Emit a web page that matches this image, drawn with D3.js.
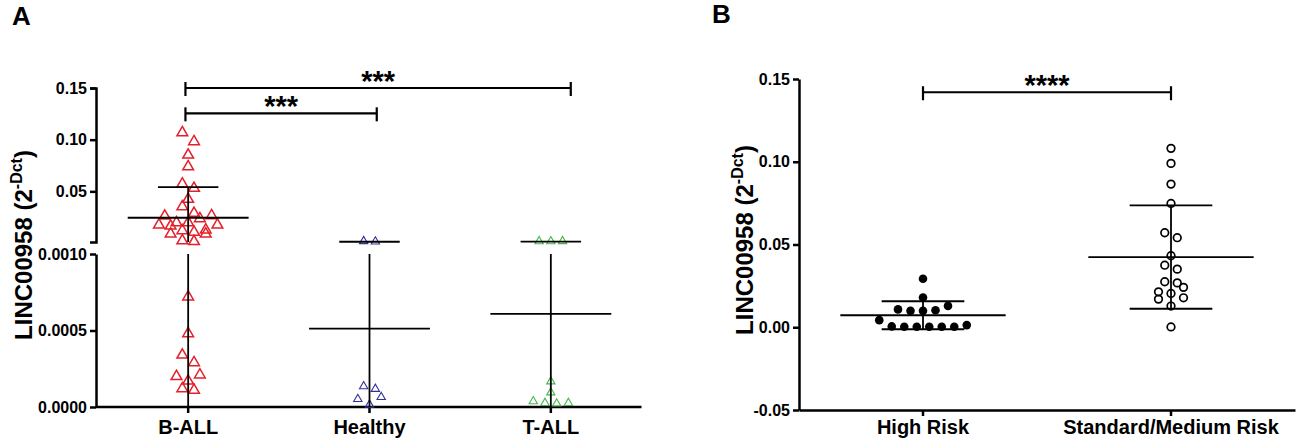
<!DOCTYPE html>
<html>
<head>
<meta charset="utf-8">
<script src="https://cdn.jsdelivr.net/npm/d3@7.9.0/dist/d3.min.js"></script>
<style>
  html, body { margin: 0; padding: 0; background: #fff; }
  svg { display: block; font-family: "Liberation Sans", Arial, sans-serif; }
</style>
</head>
<body>
<svg id="chart" width="1299" height="443"></svg>
<script>
// ---- panel A: LINC00958 by diagnosis (broken y axis)
const groupsA = ['B-ALL', 'Healthy', 'T-ALL'];
const bAll = [
  0.1068, 0.0981, 0.0852, 0.0739, 0.0572, 0.0530, 0.0424, 0.0352, 0.0288, 0.0262,
  0.0236, 0.0265, 0.0197, 0.0175, 0.0165, 0.0175, 0.0197, 0.0120, 0.0088, 0.0088,
  0.0105, 0.0127, 0.0023, 0.0015,
  0.00072, 0.00048, 0.00034, 0.00029, 0.00021, 0.00020, 0.00017, 0.00011, 0.00012
];
const healthy = [0.0014, 0.0018, 0.000135, 0.000118, 0.000065, 0.000052, 0.000015];
const tAll = [0.0017, 0.0016, 0.0018, 0.000167, 0.000095, 0.000037, 0.000026, 0.000022, 0.000026];
const ticksAUpper = [0.05, 0.10, 0.15];
const ticksALower = [0, 0.0005, 0.0010];
const axisBreakA = 0.001;
// comparisons: column index from / to, bracket level (value), label
const bracketsA = [
  { from: -0.015, to: 1.04, level: 0.1255, label: '***' },
  { from: -0.015, to: 2.11, level: 0.15, label: '***' }
];

// ---- panel B: LINC00958 by risk group
const groupsB = ['High Risk', 'Standard/Medium Risk'];
const highRisk = [
  0.0293, 0.0180, 0.0108, 0.0099, 0.0099, 0.0103, 0.0129, 0.0043,
  0.0013, 0.0003, 0.0003, 0.0003, 0.0003, 0.0003, 0.0005
];
const standardRisk = [
  0.1081, 0.0990, 0.0865, 0.0748, 0.0571, 0.0541, 0.0432, 0.0375, 0.0351,
  0.0275, 0.0268, 0.0241, 0.0214, 0.0204, 0.0170, 0.0178, 0.0128, 0.0002
];
const ticksB = [-0.05, 0, 0.05, 0.10, 0.15];
const bracketsB = [{ from: 0, to: 1, level: 0.142, label: '****' }];

const svg = d3.select('#chart');
svg.append('rect').attr('width', 1299).attr('height', 443).attr('fill', '#fff');

// plain hyphen for negatives, like the original figure
const fmt = d3.formatLocale({ decimal: '.', thousands: ',', grouping: [3], currency: ['', ''], minus: '-' }).format;

/** center-out slot order for a row of n markers (in lane units) */
function rowSlots(n) {
  const slots = [];
  if (n % 2) {
    slots.push(0);
    for (let k = 1; slots.length < n; k++) slots.push(-k, k);
  } else {
    for (let k = 0.5; slots.length < n; k++) slots.push(k, -k);
  }
  return slots.slice(0, n);
}

/** simple column-scatter layout: points close in y share a row, rows are centred */
function swarm(ys, lane, rowH) {
  const order = d3.range(ys.length).sort((a, b) => ys[b] - ys[a]);
  const offsets = new Array(ys.length).fill(0);
  let row = [];
  const flush = () => {
    const slots = rowSlots(row.length);
    row.forEach((idx, k) => { offsets[idx] = slots[k] * lane; });
    row = [];
  };
  order.forEach((i) => {
    if (row.length && ys[row[0]] - ys[i] >= rowH) flush();
    row.push(i);
  });
  if (row.length) flush();
  return offsets;
}

function styleAxis(g, fontSize) {
  g.attr('font-family', null).attr('font-size', null);
  g.selectAll('path, line').attr('stroke', '#000').attr('stroke-width', 2.5);
  g.selectAll('text')
    .attr('fill', '#000')
    .attr('font-size', fontSize)
    .attr('font-weight', 'bold');
}

function yTitle(g, x, y) {
  const t = g.append('text')
    .attr('transform', `translate(${x},${y}) rotate(-90)`)
    .attr('text-anchor', 'middle')
    .attr('font-size', 24)
    .attr('font-weight', 'bold');
  t.append('tspan').text('LINC00958 (2');
  t.append('tspan').attr('font-size', 16).attr('dy', -10).text('-Dct');
  t.append('tspan').attr('dy', 10).text(')');
}

function panelLetter(g, x, y, s) {
  g.append('text').attr('x', x).attr('y', y)
    .attr('font-size', 26).attr('font-weight', 'bold').text(s);
}

function drawBracket(g, x1, x2, y, label) {
  const b = g.append('g').attr('stroke', '#000').attr('stroke-width', 2.2);
  b.append('line').attr('x1', x1).attr('x2', x2).attr('y1', y).attr('y2', y);
  [x1, x2].forEach((x) => {
    b.append('line').attr('x1', x).attr('x2', x).attr('y1', y - 6).attr('y2', y + 8);
  });
  g.append('text')
    .attr('x', (x1 + x2) / 2).attr('y', y + 3)
    .attr('text-anchor', 'middle')
    .attr('font-size', 29).attr('font-weight', 'bold')
    .text(label);
}

/**
 * values -> markers + mean line + SD whiskers.
 * segs: [{y: scale, lo, hi}] pieces of the value axis (broken axis support)
 */
function drawColumn(g, values, cx, bw, segs, marker) {
  const segOf = (v) => segs.find((s) => v > s.lo && v <= s.hi) || segs.find((s) => v === s.lo);
  const yOf = (v) => segOf(v).y(v);
  const ys = values.map(yOf);
  const dx = swarm(ys, marker.lane, marker.rowH);

  const pts = g.append('g');
  values.forEach((v, i) => {
    if (marker.type === 'triangle') {
      pts.append('path')
        .attr('d', d3.symbol().type(d3.symbolTriangle).size(marker.size)())
        .attr('transform', `translate(${cx + dx[i]},${ys[i]})`)
        .attr('fill', 'none')
        .attr('stroke', marker.color)
        .attr('stroke-width', marker.stroke);
    } else {
      pts.append('circle')
        .attr('cx', cx + dx[i]).attr('cy', ys[i]).attr('r', marker.r)
        .attr('fill', marker.filled ? '#000' : 'none')
        .attr('stroke', '#000')
        .attr('stroke-width', marker.filled ? 0 : marker.stroke);
    }
  });

  const m = d3.mean(values);
  const sd = d3.deviation(values);
  const lo = d3.min(segs, (s) => s.lo);
  const hi = d3.max(segs, (s) => s.hi);
  const lines = g.append('g').attr('stroke', '#000').attr('stroke-width', 1.8);
  const hline = (v, half) => {
    if (v < lo || v > hi) return;
    const y = yOf(v);
    lines.append('line').attr('x1', cx - half).attr('x2', cx + half).attr('y1', y).attr('y2', y);
  };
  hline(m, bw / 3);
  hline(m + sd, bw / 6);
  hline(m - sd, bw / 6);
  segs.forEach((s) => {
    const a = Math.max(m - sd, s.lo);
    const b = Math.min(m + sd, s.hi);
    if (a < b) {
      lines.append('line').attr('x1', cx).attr('x2', cx).attr('y1', s.y(a)).attr('y2', s.y(b));
    }
  });
}

// ================= Panel A =================
const gA = svg.append('g');
const xA = d3.scaleBand().domain(groupsA).range([97.5, 641.5]);
const cA = (name) => xA(name) + xA.bandwidth() / 2;
const colA = d3.scaleLinear().domain([0, groupsA.length - 1]).range([cA(groupsA[0]), cA(groupsA[groupsA.length - 1])]);
const yAUp = d3.scaleLinear().domain([axisBreakA, 0.15]).range([242, 88]);
const yALo = d3.scaleLinear().domain([0, axisBreakA]).range([407, 254]);
const segsA = [{ y: yAUp, lo: axisBreakA, hi: 0.15 }, { y: yALo, lo: 0, hi: axisBreakA }];

gA.append('g').attr('transform', 'translate(96,0)')
  .call(d3.axisLeft(yAUp).tickValues(ticksAUpper).tickFormat(fmt('.2f')).tickSize(6).tickSizeOuter(6).tickPadding(3))
  .call(styleAxis, 16);
gA.append('g').attr('transform', 'translate(96,0)')
  .call(d3.axisLeft(yALo).tickValues(ticksALower).tickFormat(fmt('.4f')).tickSize(6).tickSizeOuter(0).tickPadding(3))
  .call(styleAxis, 16);
gA.append('g').attr('transform', 'translate(0,407)')
  .call(d3.axisBottom(xA).tickSize(6).tickSizeOuter(0).tickPadding(7))
  .call(styleAxis, 20)
  .call((g) => g.select('.domain').attr('d', 'M96,0H641.5'));

const markA = { type: 'triangle', lane: 11.7, rowH: 9 };
drawColumn(gA, bAll, cA('B-ALL'), xA.bandwidth(), segsA, { ...markA, size: 50, color: '#e3202a', stroke: 1.5 });
drawColumn(gA, healthy, cA('Healthy'), xA.bandwidth(), segsA, { ...markA, size: 30, color: '#30309c', stroke: 1.1 });
drawColumn(gA, tAll, cA('T-ALL'), xA.bandwidth(), segsA, { ...markA, size: 30, color: '#46b64a', stroke: 1.1 });

bracketsA.forEach((b) => drawBracket(gA, colA(b.from), colA(b.to), yAUp(b.level), b.label));
yTitle(gA, 32, 245);
panelLetter(gA, 12, 25, 'A');

// ================= Panel B =================
const gB = svg.append('g');
const xB = d3.scaleBand().domain(groupsB).range([799, 1295]);
const cB = (name) => xB(name) + xB.bandwidth() / 2;
const colB = d3.scaleLinear().domain([0, groupsB.length - 1]).range([cB(groupsB[0]), cB(groupsB[groupsB.length - 1])]);
const yB = d3.scaleLinear().domain([-0.05, 0.15]).range([410, 79]);
const segsB = [{ y: yB, lo: -0.05, hi: 0.15 }];

gB.append('g').attr('transform', 'translate(799,0)')
  .call(d3.axisLeft(yB).tickValues(ticksB).tickFormat(fmt('.2f')).tickSize(6).tickSizeOuter(0).tickPadding(3))
  .call(styleAxis, 16);
gB.append('g').attr('transform', 'translate(0,410)')
  .call(d3.axisBottom(xB).tickSize(6).tickSizeOuter(0).tickPadding(4))
  .call(styleAxis, 20);

const markB = { type: 'circle', lane: 12.5, rowH: 9 };
drawColumn(gB, highRisk, cB('High Risk'), xB.bandwidth(), segsB, { ...markB, r: 4.3, filled: true });
drawColumn(gB, standardRisk, cB('Standard/Medium Risk'), xB.bandwidth(), segsB, { ...markB, r: 3.8, filled: false, stroke: 1.7 });

bracketsB.forEach((b) => drawBracket(gB, colB(b.from), colB(b.to), yB(b.level), b.label));
yTitle(gB, 753, 240);
panelLetter(gB, 712, 23, 'B');
</script>
</body>
</html>
